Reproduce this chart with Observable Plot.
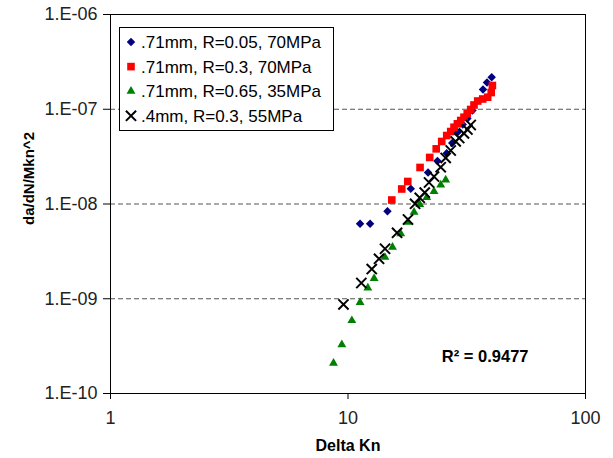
<!DOCTYPE html>
<html><head><meta charset="utf-8">
<script src="https://cdn.jsdelivr.net/npm/d3@7"></script>
<script src="https://cdn.jsdelivr.net/npm/@observablehq/plot@0.6"></script>
<style>body{margin:0;background:#fff} #chart{width:613px;height:458px}</style>
</head><body><div id="chart"></div>
<script>
const seriesNames = [".71mm, R=0.05, 70MPa", ".71mm, R=0.3, 70MPa", ".71mm, R=0.65, 35MPa", ".4mm, R=0.3, 55MPa"];
const seriesColors = ["#000080", "#ff0000", "#008000", "#000000"];
const seriesSymbols = ["diamond2", "square", "triangle", "times"];

const blueX = [11.24, 12.39, 14.66, 18.38, 21.73, 23.80, 26.04, 27.47, 28.97, 30.41, 31.83, 33.41, 37.02, 38.48, 40.27];
const blueY = [6.18e-9, 6.18e-9, 8.40e-9, 1.446e-8, 2.15e-8, 2.84e-8, 3.44e-8, 4.40e-8, 5.72e-8, 6.90e-8, 7.99e-8, 9.70e-8, 1.616e-7, 1.915e-7, 2.18e-7];

const redX = [15.29, 16.84, 17.85, 20.11, 22.08, 23.52, 24.81, 26.04, 27.07, 27.95, 28.88, 29.83, 30.79, 31.77, 32.86, 33.92, 35.17, 36.91, 38.74, 40.08, 40.55];
const redY = [1.102e-8, 1.44e-8, 1.728e-8, 2.43e-8, 3.10e-8, 3.82e-8, 4.57e-8, 5.28e-8, 5.82e-8, 6.46e-8, 7.02e-8, 7.61e-8, 8.24e-8, 8.95e-8, 9.94e-8, 1.109e-7, 1.222e-7, 1.283e-7, 1.340e-7, 1.502e-7, 1.781e-7];

const greenX = [8.69, 9.42, 10.38, 11.24, 12.12, 12.88, 14.31, 15.39, 16.68, 17.89, 18.97, 20.05, 21.45, 23.02, 24.57, 25.78];
const greenY = [2.09e-10, 3.27e-10, 5.89e-10, 9.13e-10, 1.30e-9, 1.636e-9, 2.74e-9, 3.50e-9, 4.85e-9, 6.42e-9, 8.19e-9, 9.88e-9, 1.171e-8, 1.361e-8, 1.587e-8, 1.792e-8];

const blackX = [9.57, 11.38, 12.59, 13.51, 14.32, 16.09, 17.89, 19.16, 20.05, 21.04, 21.94, 23.02, 24.57, 25.78, 27.07, 28.41, 29.39, 30.79, 31.83, 32.86];
const blackY = [8.70e-10, 1.466e-9, 2.06e-9, 2.64e-9, 3.37e-9, 4.97e-9, 6.86e-9, 1.005e-8, 1.162e-8, 1.322e-8, 1.686e-8, 1.95e-8, 2.445e-8, 3.06e-8, 3.67e-8, 4.57e-8, 4.97e-8, 5.55e-8, 6.11e-8, 6.82e-8];

const xTicks = [1, 10, 100];
const yTicks = [1e-10, 1e-9, 1e-8, 1e-7, 1e-6];
const yTickLabels = ["1.E-10", "1.E-09", "1.E-08", "1.E-07", "1.E-06"];
const gridValues = [1e-9, 1e-8, 1e-7];
const xTitle = "Delta Kn";
const yTitle = "da/dN/Mkn^2";
const r2Text = "R\u00B2 = 0.9477";

const toRows = (xs, ys) => xs.map((x, i) => ({x, y: ys[i]}));
const blueRows = toRows(blueX, blueY);
const redRows = toRows(redX, redY);
const greenRows = toRows(greenX, greenY);
const blackRows = toRows(blackX, blackY);

const font = "'Liberation Sans', Arial, sans-serif";
const symR = [3.8, 4.3, 3.3, 4.7];

const svg = Plot.plot({
  width: 613, height: 458,
  marginLeft: 110, marginRight: 28, marginTop: 14, marginBottom: 65,
  style: {fontFamily: font, fontSize: "16px", color: "#000", background: "#fff", overflow: "visible"},
  x: {type: "log", domain: [1, 100]},
  y: {type: "log", domain: [1e-10, 1e-6]},
  marks: [
    Plot.ruleY(gridValues, {stroke: "#555", strokeDasharray: "5,3", strokeWidth: 1}),
    Plot.frame({stroke: "#000", strokeWidth: 1}),
    Plot.axisX(xTicks, {tickSize: 6, tickPadding: 12, tickFormat: d => String(d), label: null, fontSize: 18, fill: "#222"}),
    Plot.axisY(yTicks, {tickSize: 7, tickPadding: 6, tickFormat: d => yTickLabels[yTicks.indexOf(d)], label: null, fontSize: 18, fill: "#222"}),
    Plot.dot(blueRows, {x: "x", y: "y", symbol: seriesSymbols[0], fill: seriesColors[0], r: symR[0]}),
    Plot.dot(redRows, {x: "x", y: "y", symbol: seriesSymbols[1], fill: seriesColors[1], r: symR[1]}),
    Plot.dot(greenRows, {x: "x", y: "y", symbol: seriesSymbols[2], fill: seriesColors[2], r: symR[2]}),
    Plot.dot(blackRows, {x: "x", y: "y", symbol: seriesSymbols[3], stroke: seriesColors[3], strokeWidth: 2, r: symR[3]}),
    Plot.text([xTitle], {frameAnchor: "bottom", dy: 52, textAnchor: "middle", lineAnchor: "middle", fontWeight: "bold", fontSize: 16, text: d => d}),
    Plot.text([r2Text], {frameAnchor: "bottom-right", dx: -57, dy: -37, textAnchor: "end", lineAnchor: "middle", fontWeight: "bold", fontSize: 16.5, text: d => d})
  ]
});

// y-axis title (rotated)
d3.select(svg).append("text")
  .attr("transform", "translate(29,178.5) rotate(-90)")
  .attr("text-anchor", "middle").attr("dy", "0.35em")
  .attr("font-family", font).attr("font-size", 15).attr("font-weight", "bold").attr("fill", "#000")
  .text(yTitle);

// legend
const sym = {diamond2: d3.symbolDiamond2, square: d3.symbolSquare, triangle: d3.symbolTriangle, times: d3.symbolTimes};
const lg = d3.select(svg).append("g").attr("font-family", font).attr("font-size", 17).attr("text-anchor", "start");
lg.append("rect").attr("x", 119.5).attr("y", 27.5).attr("width", 214).attr("height", 103)
  .attr("fill", "#fff").attr("stroke", "#000").attr("stroke-width", 1);
seriesNames.forEach((name, i) => {
  const cy = 42 + i * 24.6;
  const path = d3.symbol(sym[seriesSymbols[i]], Math.PI * symR[i] * symR[i])();
  const p = lg.append("path").attr("d", path).attr("transform", `translate(131,${cy})`);
  if (seriesSymbols[i] === "times") p.attr("fill", "none").attr("stroke", seriesColors[i]).attr("stroke-width", 2);
  else p.attr("fill", seriesColors[i]);
  lg.append("text").attr("x", 141).attr("y", cy).attr("dy", "0.35em").attr("fill", "#000").text(name);
});

document.getElementById("chart").appendChild(svg);
</script>
</body></html>
